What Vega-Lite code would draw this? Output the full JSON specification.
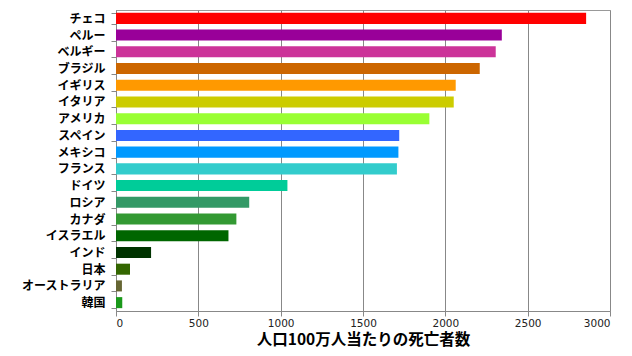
{
  "$schema": "https://vega.github.io/schema/vega-lite/v6.json",
  "autosize": "none",
  "width": 494,
  "height": 301,
  "padding": {"left": 116, "top": 10, "right": 22, "bottom": 45},
  "background": "white",
  "config": {"view": {"stroke": "#999999", "strokeWidth": 1}},
  "data": {"values": [
    {"country": "チェコ", "deaths": 2855, "color": "#FF0000"},
    {"country": "ペルー", "deaths": 2343, "color": "#990099"},
    {"country": "ベルギー", "deaths": 2306, "color": "#CC3399"},
    {"country": "ブラジル", "deaths": 2209, "color": "#CC6600"},
    {"country": "イギリス", "deaths": 2063, "color": "#FF9900"},
    {"country": "イタリア", "deaths": 2051, "color": "#CCCC00"},
    {"country": "アメリカ", "deaths": 1903, "color": "#99FF33"},
    {"country": "スペイン", "deaths": 1720, "color": "#3366FF"},
    {"country": "メキシコ", "deaths": 1715, "color": "#0099FF"},
    {"country": "フランス", "deaths": 1706, "color": "#33CCCC"},
    {"country": "ドイツ", "deaths": 1041, "color": "#00CC99"},
    {"country": "ロシア", "deaths": 809, "color": "#339966"},
    {"country": "カナダ", "deaths": 731, "color": "#339933"},
    {"country": "イスラエル", "deaths": 683, "color": "#006600"},
    {"country": "インド", "deaths": 213, "color": "#003300"},
    {"country": "日本", "deaths": 85, "color": "#336600"},
    {"country": "オーストラリア", "deaths": 36, "color": "#666633"},
    {"country": "韓国", "deaths": 38, "color": "#1A991A"}
  ]},
  "mark": {"type": "bar"},
  "encoding": {
    "y": {
      "field": "country",
      "type": "nominal",
      "sort": null,
      "scale": {"paddingInner": 0.34, "paddingOuter": 0.17},
      "axis": {
        "title": null,
        "tickBand": "extent",
        "domainColor": "#888888",
        "tickColor": "#888888",
        "tickSize": 5,
        "labelFont": "Noto Sans CJK JP",
        "labelFontWeight": "bold",
        "labelFontSize": 12,
        "labelColor": "#000000",
        "labelPadding": 6
      }
    },
    "x": {
      "field": "deaths",
      "type": "quantitative",
      "scale": {"domain": [0, 3000], "nice": false},
      "axis": {
        "values": [0, 500, 1000, 1500, 2000, 2500, 3000],
        "format": "d",
        "title": "人口100万人当たりの死亡者数",
        "titleFont": "Noto Sans CJK JP",
        "titleFontSize": 15.5,
        "titleFontWeight": "bold",
        "titleColor": "#000000",
        "titlePadding": 4,
        "grid": true,
        "gridColor": "#888888",
        "domainColor": "#888888",
        "tickColor": "#888888",
        "tickSize": 5,
        "labelFont": "DejaVu Sans",
        "labelFontSize": 10.5,
        "labelColor": "#222222",
        "labelPadding": 2,
        "labelOverlap": false
      }
    },
    "color": {"field": "color", "type": "nominal", "scale": null, "legend": null}
  }
}
